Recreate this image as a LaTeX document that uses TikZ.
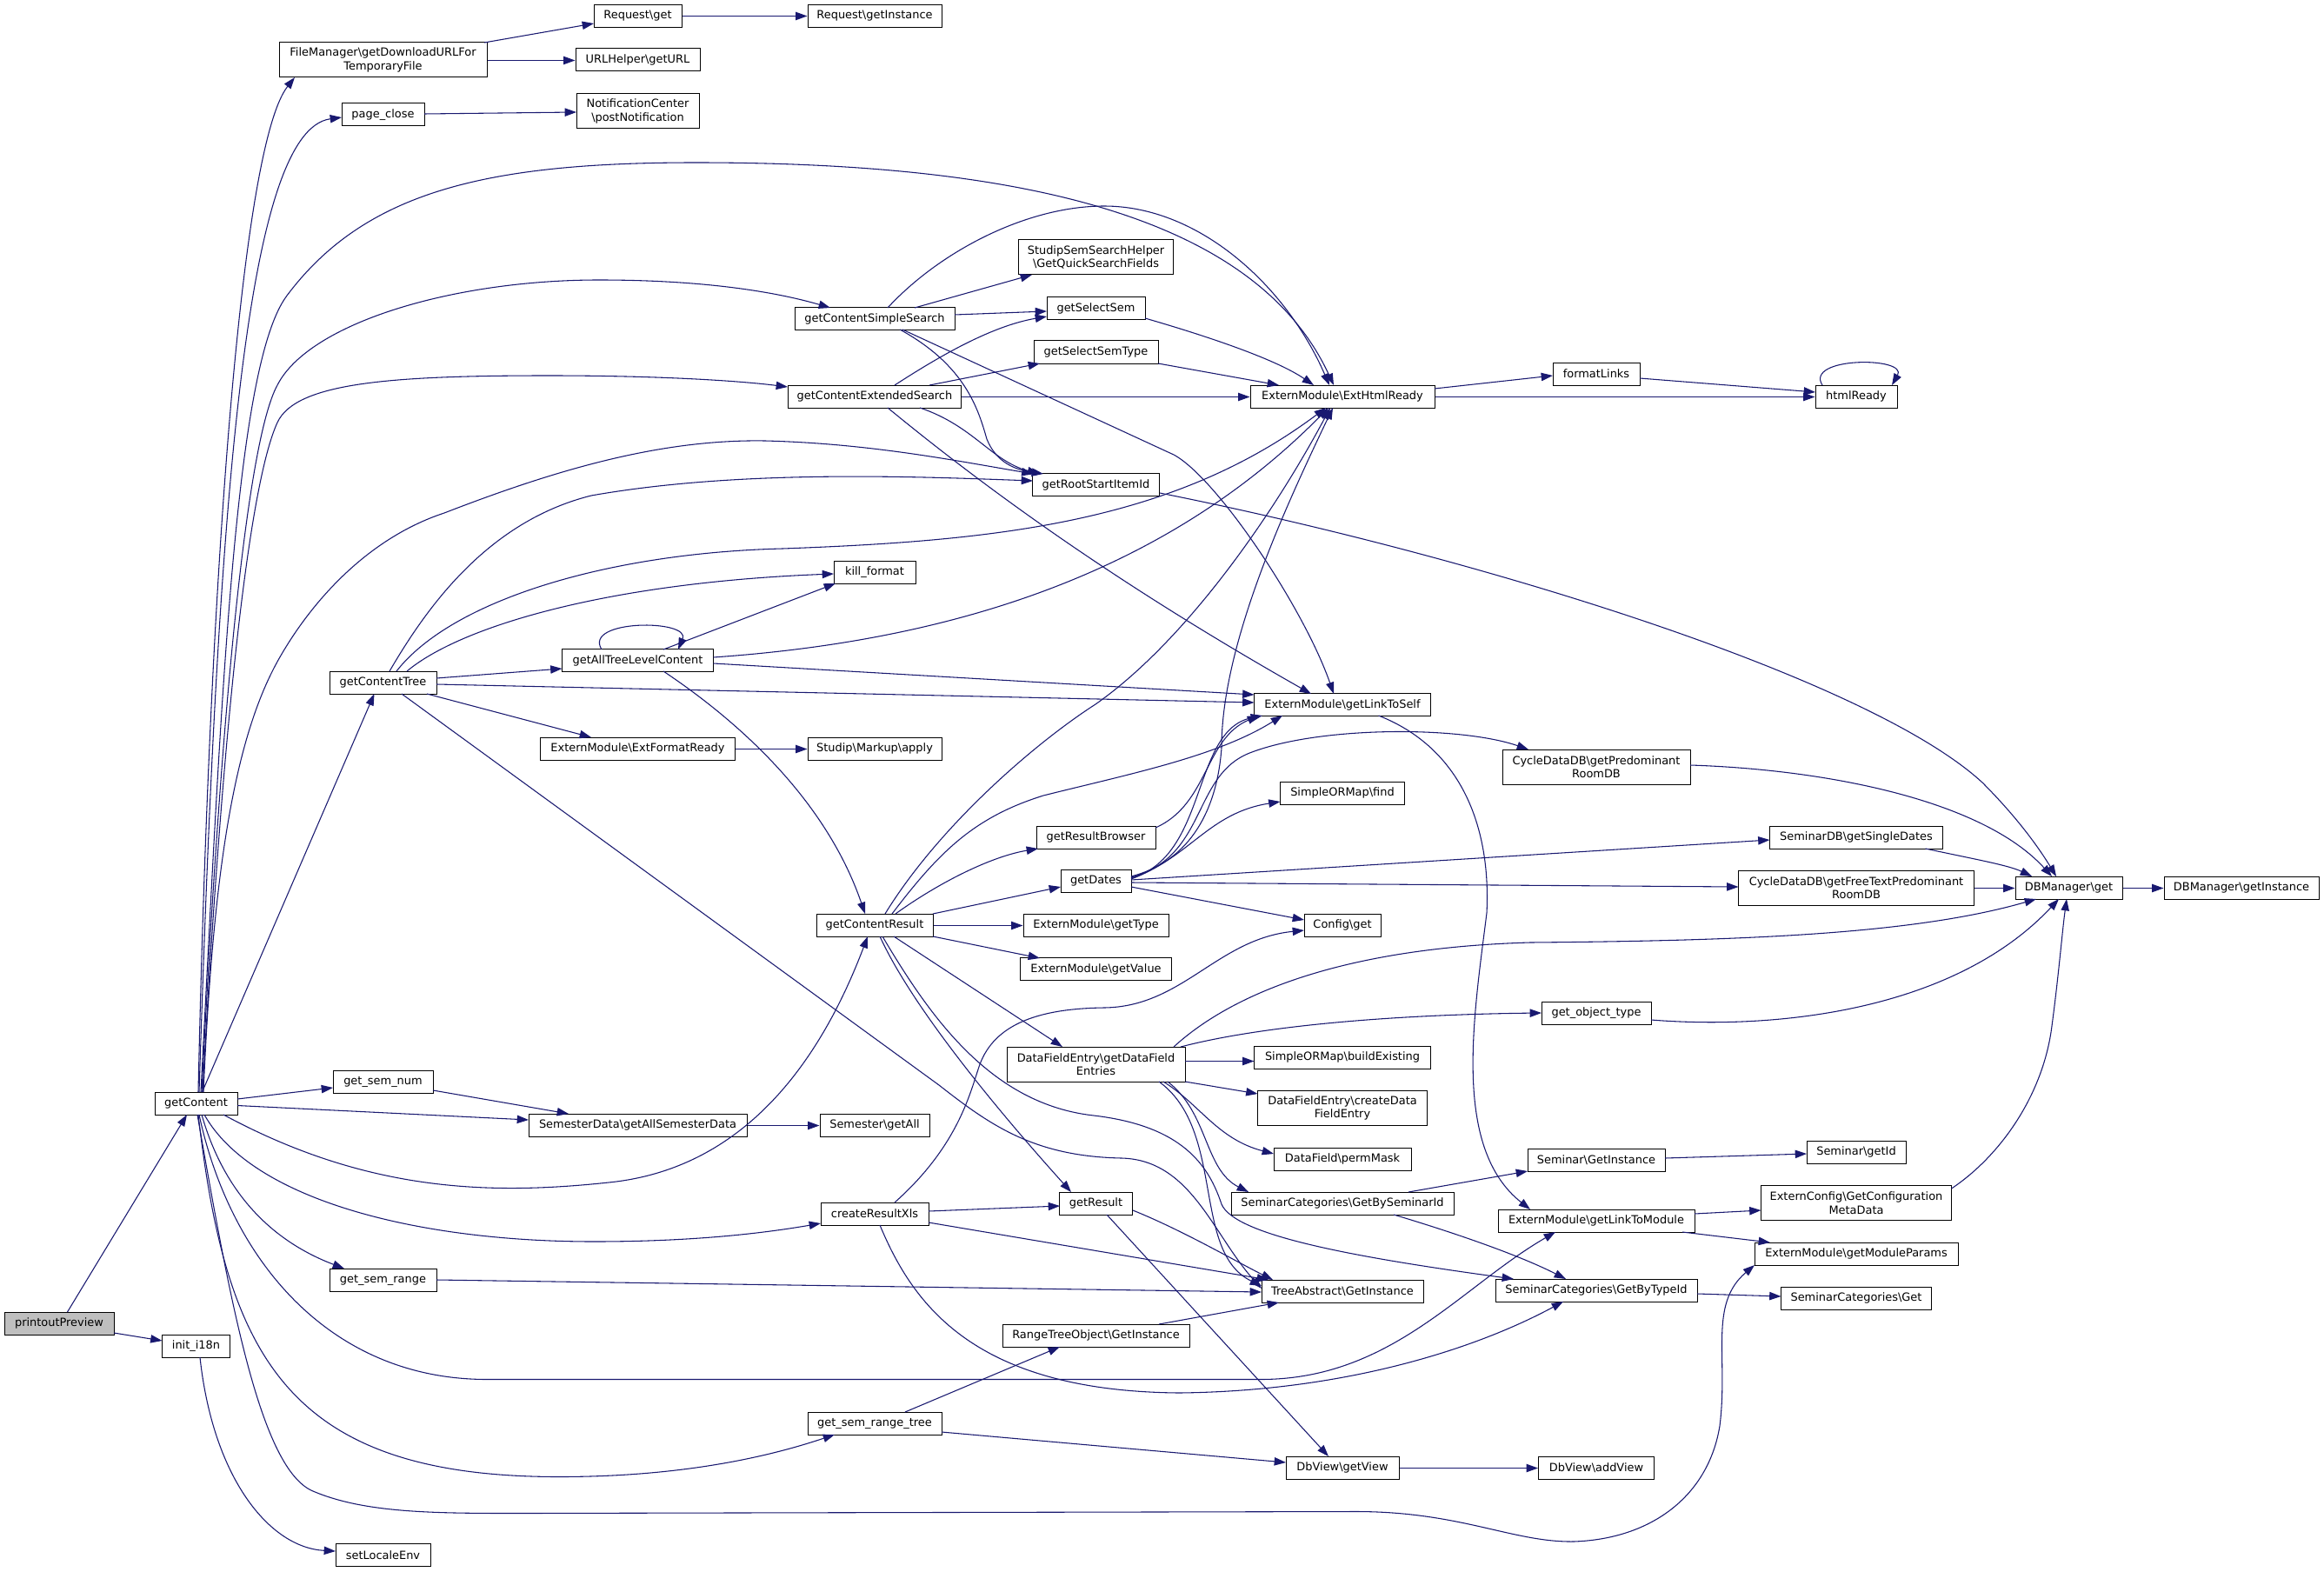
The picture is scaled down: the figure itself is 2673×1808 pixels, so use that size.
\documentclass[tikz,border=0pt]{standalone}
\usepackage{fontspec}
\setmainfont{DejaVu Sans}
\usetikzlibrary{arrows.meta,calc}
\definecolor{edgec}{HTML}{191970}
\definecolor{rootgray}{HTML}{BFBFBF}
\newcommand\bsl{\textbackslash}
\newcommand\nd[6]{\node[box,minimum width=#4*0.75pt,minimum height=#5*0.75pt] (#1) at (#2,#3) {#6};}
\begin{document}
\begin{tikzpicture}[x=0.75pt,y=-0.75pt,
  box/.style={draw=black,fill=white,line width=0.75pt,inner sep=0pt,align=center,font=\fontsize{9.7pt}{11.6pt}\selectfont},
  ce/.style={draw=edgec,line width=0.8pt,-{Triangle[length=10pt,width=7pt]}}]
\fill[white] (0,0) rectangle (2673,1808);
\useasboundingbox (0,0) rectangle (2673,1808);
% nodes
\node[box,fill=rootgray,minimum width=126*0.75pt,minimum height=26*0.75pt] (pp) at (68,1522) {printoutPreview};
\nd{gc}{225.5}{1269}{95}{26}{getContent}
\nd{init}{225.5}{1548}{78}{26}{init\_i18n}
\nd{sle}{440.5}{1788.5}{109}{26}{setLocaleEnv}
\nd{fm}{440.5}{69}{239}{40}{FileManager\bsl getDownloadURLFor\\TemporaryFile}
\nd{rg}{733.5}{18.5}{101}{26}{Request\bsl get}
\nd{rgi}{1006}{18.5}{154}{26}{Request\bsl getInstance}
\nd{url}{733.5}{69}{143}{26}{URLHelper\bsl getURL}
\nd{pc}{440.5}{132}{95}{26}{page\_close}
\nd{nc}{733.5}{128}{141}{40}{NotificationCenter\\\bsl postNotification}
\nd{gcss}{1006}{366.5}{184}{26}{getContentSimpleSearch}
\nd{sssh}{1260.5}{296}{178}{40}{StudipSemSearchHelper\\\bsl GetQuickSearchFields}
\nd{gss}{1260.5}{354.5}{113}{26}{getSelectSem}
\nd{gsst}{1260.5}{405}{143}{26}{getSelectSemType}
\nd{gces}{1006}{456}{199}{26}{getContentExtendedSearch}
\nd{ehr}{1544}{456}{212}{26}{ExternModule\bsl ExtHtmlReady}
\nd{grs}{1260.5}{557.5}{146}{26}{getRootStartItemId}
\nd{fl}{1836}{430}{100}{26}{formatLinks}
\nd{hr}{2135}{456}{94}{26}{htmlReady}
\nd{gct}{440.5}{785}{123}{26}{getContentTree}
\nd{gatl}{733.5}{759.5}{174}{26}{getAllTreeLevelContent}
\nd{efr}{733.5}{861}{224}{26}{ExternModule\bsl ExtFormatReady}
\nd{kf}{1006}{658}{94}{26}{kill\_format}
\nd{glts}{1544}{810.5}{203}{26}{ExternModule\bsl getLinkToSelf}
\nd{sma}{1006}{861}{154}{26}{Studip\bsl Markup\bsl apply}
\nd{cpr}{1836}{882}{216}{40}{CycleDataDB\bsl getPredominant\\RoomDB}
\nd{smf}{1544}{912}{143}{26}{SimpleORMap\bsl find}
\nd{grb}{1260.5}{963}{137}{26}{getResultBrowser}
\nd{gd}{1260.5}{1013}{81}{26}{getDates}
\nd{gcr}{1006}{1064}{134}{26}{getContentResult}
\nd{gtype}{1260.5}{1064}{167}{26}{ExternModule\bsl getType}
\nd{cfg}{1544}{1064}{88}{26}{Config\bsl get}
\nd{gval}{1260.5}{1114.5}{174}{26}{ExternModule\bsl getValue}
\nd{sdb}{2135}{963}{199}{26}{SeminarDB\bsl getSingleDates}
\nd{cft}{2135}{1021}{271}{40}{CycleDataDB\bsl getFreeTextPredominant\\RoomDB}
\nd{dbg}{2379.5}{1021}{123}{26}{DBManager\bsl get}
\nd{dbi}{2578}{1021}{178}{26}{DBManager\bsl getInstance}
\nd{got}{1836}{1165}{126}{26}{get\_object\_type}
\nd{gsn}{440.5}{1244}{115}{26}{get\_sem\_num}
\nd{sd}{733.5}{1294}{251}{26}{SemesterData\bsl getAllSemesterData}
\nd{gsr}{440.5}{1472}{123}{26}{get\_sem\_range}
\nd{dfe}{1260.5}{1224}{205}{40}{DataFieldEntry\bsl getDataField\\Entries}
\nd{sbe}{1544}{1216}{203}{26}{SimpleORMap\bsl buildExisting}
\nd{cdfe}{1544}{1274.5}{195}{40}{DataFieldEntry\bsl createData\\FieldEntry}
\nd{sga}{1006}{1294}{126}{26}{Semester\bsl getAll}
\nd{pm}{1544}{1333}{158}{26}{DataField\bsl permMask}
\nd{crx}{1006}{1396}{124}{26}{createResultXls}
\nd{gr}{1260.5}{1384}{84}{26}{getResult}
\nd{gbs}{1544}{1384}{256}{26}{SeminarCategories\bsl GetBySeminarId}
\nd{ta}{1544}{1485}{186}{26}{TreeAbstract\bsl GetInstance}
\nd{rto}{1260.5}{1536}{215}{26}{RangeTreeObject\bsl GetInstance}
\nd{gsrt}{1006}{1637}{154}{26}{get\_sem\_range\_tree}
\nd{dgv}{1544}{1688}{130}{26}{DbView\bsl getView}
\nd{sgi}{1836}{1334}{158}{26}{Seminar\bsl GetInstance}
\nd{sgid}{2135}{1325}{114}{26}{Seminar\bsl getId}
\nd{gltm}{1836}{1404}{226}{26}{ExternModule\bsl getLinkToModule}
\nd{ecg}{2135}{1383.5}{219}{40}{ExternConfig\bsl GetConfiguration\\MetaData}
\nd{gmp}{2135}{1442}{234}{26}{ExternModule\bsl getModuleParams}
\nd{gbt}{1836}{1484}{232}{26}{SeminarCategories\bsl GetByTypeId}
\nd{scg}{2135}{1493}{173}{26}{SeminarCategories\bsl Get}
\nd{dav}{1836}{1688}{133}{26}{DbView\bsl addView}
% edges
\draw[ce] ($(pp)+(9.5,-13)$) -- ($(gc)+(-10.5,13)$);
\draw[ce] ($(pp)+(63,11)$) -- ($(init)+(-39,-6)$);
\draw[ce] ($(init)+(4.5,13)$) .. controls (245,1700) and (310,1780) .. ($(sle)+(-54.5,-4.5)$);
\draw[ce] ($(gc)+(2.5,-13)$) .. controls (240,700) and (275,170) .. ($(fm)+(-101.5,20)$);
\draw[ce] ($(gc)+(3.5,-13)$) .. controls (250,600) and (280,150) .. ($(pc)+(-47.5,3)$);
\draw[ce] ($(gc)+(5.5,-13)$) .. controls (255,800) and (270,420) .. (330,340) .. controls (420,220) and (560,187) .. (800,187) .. controls (1150,187) and (1440,240) .. ($(ehr)+(-10,-13)$);
\draw[ce] ($(gc)+(6.5,-13)$) .. controls (255,800) and (285,505) .. (319,443) .. controls (355,372) and (520,322) .. (689,322) .. controls (820,322) and (900,338) .. ($(gcss)+(-51,-12.5)$);
\draw[ce] ($(gc)+(7.5,-13)$) .. controls (255,850) and (285,560) .. (319,486) .. controls (340,440) and (450,432) .. (631,432) .. controls (760,432) and (850,438) .. ($(gces)+(-100,-11)$);
\draw[ce] ($(gc)+(8.5,-13)$) .. controls (245,1000) and (270,850) .. (319,761) .. controls (355,696) and (420,620) .. (511,590) .. controls (640,540) and (760,505) .. (880,507) .. controls (1000,510) and (1100,530) .. ($(grs)+(-72,-12.5)$);
\draw[ce] ($(gc)+(7,-13)$) -- ($(gct)+(-10,13)$);
\draw[ce] ($(gc)+(47.5,-5)$) -- ($(gsn)+(-57.5,7)$);
\draw[ce] ($(gc)+(47.5,2.5)$) -- ($(sd)+(-125.5,-6)$);
\draw[ce] ($(gc)+(31.5,13)$) .. controls (420,1370) and (560,1375) .. (700,1360) .. controls (850,1345) and (940,1230) .. ($(gcr)+(-8,13)$);
\draw[ce] ($(gc)+(9.5,13)$) .. controls (290,1380) and (480,1428) .. (683,1428) .. controls (800,1428) and (880,1418) .. ($(crx)+(-62,11)$);
\draw[ce] ($(gc)+(6.5,13)$) .. controls (260,1380) and (320,1430) .. ($(gsr)+(-44.5,-13)$);
\draw[ce] ($(gc)+(3.5,13)$) .. controls (265,1450) and (380,1586.5) .. (560,1586.5) -- (1450,1586.5) .. controls (1600,1586.5) and (1680,1480) .. ($(gltm)+(-47,13)$);
\draw[ce] ($(gc)+(2.5,13)$) .. controls (260,1560) and (330,1698.5) .. (643,1698.5) .. controls (800,1698.5) and (900,1670) .. ($(gsrt)+(-46,13)$);
\draw[ce] ($(gc)+(1.5,13)$) .. controls (265,1500) and (300,1690) .. (360,1715) .. controls (420,1740.5) and (500,1740.5) .. (600,1740.5) -- (1560,1738.5) .. controls (1680,1738.5) and (1740,1774) .. (1810,1773) .. controls (1900,1770) and (1965,1720) .. (1978,1640) .. controls (1988,1560) and (1965,1500) .. ($(gmp)+(-117,13)$);
% getContentTree
\draw[ce] ($(gct)+(61.5,-5)$) -- ($(gatl)+(-87,9.5)$);
\draw[ce] ($(gct)+(61.5,2)$) -- ($(glts)+(-101.5,-2.5)$);
\draw[ce] ($(gct)+(50.5,13)$) -- ($(efr)+(-53.5,-13)$);
\draw[ce] ($(gct)+(21.5,13)$) -- (1080,1248) .. controls (1140,1295) and (1190,1330) .. (1290,1332) .. controls (1370,1334) and (1395,1420) .. ($(ta)+(-93,-3)$);
\draw[ce] ($(gct)+(27.5,-13)$) .. controls (530,720) and (700,670) .. ($(kf)+(-47,2)$);
\draw[ce] ($(gct)+(7.5,-13)$) .. controls (490,700) and (560,600) .. (680,570) .. controls (850,540) and (1050,548) .. ($(grs)+(-72.5,-4.5)$);
\draw[ce] ($(gct)+(15.5,-13)$) .. controls (520,690) and (700,636) .. (900,631) .. controls (1150,622) and (1350,600) .. ($(ehr)+(-19,13)$);
% getAllTreeLevelContent
\draw[ce] ($(gatl)+(-41.5,-12.5)$) .. controls (670,712) and (795,712) .. ($(gatl)+(46.5,-12.5)$);
\draw[ce] ($(gatl)+(29.5,-12.5)$) -- ($(kf)+(-45,13)$);
\draw[ce] ($(gatl)+(87,-3.5)$) .. controls (1050,740) and (1320,680) .. ($(ehr)+(-16,13)$);
\draw[ce] ($(gatl)+(87,3.5)$) -- ($(glts)+(-101.5,-11.5)$);
\draw[ce] ($(gatl)+(29.5,12.5)$) .. controls (850,830) and (950,920) .. ($(gcr)+(-11,-13)$);
\draw[ce] ($(efr.east)+(0,0.5)$) -- ($(sma.west)+(0,0.5)$);
% simple search / extended search
\draw[ce] ($(gcss)+(15,-12.5)$) .. controls (1080,290) and (1180,237) .. (1270,237) .. controls (1380,237) and (1480,330) .. ($(ehr)+(-15,-13)$);
\draw[ce] ($(gcss)+(46,-12.5)$) -- ($(sssh)+(-73.5,20)$);
\draw[ce] ($(gcss)+(92,-4.5)$) -- ($(gss)+(-56.5,3.5)$);
\draw[ce] ($(gcss)+(29,12.5)$) .. controls (1110,420) and (1125,470) .. (1135,505) .. controls (1145,530) and (1165,540) .. ($(grs)+(-60.5,-12.5)$);
\draw[ce] ($(gcss)+(32,12.5)$) -- (1350,523) .. controls (1400,550) and (1500,700) .. ($(glts)+(-10,-12.5)$);
\draw[ce] ($(gces)+(23,-13)$) .. controls (1080,410) and (1140,375) .. ($(gss)+(-56.5,9.5)$);
\draw[ce] ($(gces)+(63,-13)$) -- ($(gsst)+(-64.5,13)$);
\draw[ce] ($(gces.east)+(0,0.5)$) -- ($(ehr.west)+(0,0.5)$);
\draw[ce] ($(gces)+(52,13)$) .. controls (1120,490) and (1140,530) .. ($(grs)+(-65.5,-12.5)$);
\draw[ce] ($(gces)+(15,13)$) .. controls (1150,575) and (1300,680) .. ($(glts)+(-36,-12.5)$);
\draw[ce] ($(gss)+(56.5,11.5)$) .. controls (1400,390) and (1470,415) .. ($(ehr)+(-33,-13)$);
\draw[ce] ($(gsst)+(71.5,13)$) -- ($(ehr)+(-73,-13)$);
\draw[ce] ($(ehr)+(106,-9)$) -- ($(fl)+(-50,2)$);
\draw[ce] ($(ehr.east)+(0,0.5)$) -- ($(hr.west)+(0,0.5)$);
\draw[ce] ($(fl)+(50,5)$) -- ($(hr)+(-47,-5)$);
\draw[ce] ($(hr)+(-39,-13)$) .. controls (2075,410) and (2195,410) .. ($(hr)+(41,-13)$);
% DBManager
\draw[ce] ($(grs)+(73.5,9.5)$) .. controls (1700,640) and (2150,780) .. (2280,900) .. controls (2320,940) and (2345,975) .. ($(dbg)+(-14.5,-13)$);
\draw[ce] ($(sdb)+(79.5,13)$) .. controls (2270,988) and (2310,995) .. ($(dbg)+(-42.5,-13)$);
\draw[ce] ($(cpr)+(108,-2)$) .. controls (2100,885) and (2280,920) .. ($(dbg)+(-19.5,-13)$);
\draw[ce] ($(cft.east)+(0,0.5)$) -- ($(dbg.west)+(0,0.5)$);
\draw[ce] ($(dfe)+(89.5,-20)$) .. controls (1420,1140) and (1550,1090) .. (1760,1084) .. controls (2000,1082) and (2200,1075) .. ($(dbg)+(-37.5,13)$);
\draw[ce] ($(got)+(63,8)$) .. controls (2050,1185) and (2250,1160) .. ($(dbg)+(-11.5,13)$);
\draw[ce] ($(ecg)+(109.5,-16.5)$) .. controls (2300,1330) and (2350,1260) .. (2360,1180) .. controls (2368,1120) and (2372,1070) .. ($(dbg)+(-2.5,13)$);
\draw[ce] ($(dbg.east)+(0,0.5)$) -- ($(dbi.west)+(0,0.5)$);
% getContentResult
\draw[ce] ($(gcr)+(12,-13)$) .. controls (1080,950) and (1190,855) .. (1260,810) .. controls (1360,740) and (1460,600) .. ($(ehr)+(-14,13)$);
\draw[ce] ($(gcr)+(20,-13)$) .. controls (1080,980) and (1120,940) .. (1200,915) .. controls (1300,890) and (1400,870) .. ($(glts)+(-69,12.5)$);
\draw[ce] ($(grb)+(68.5,-11)$) .. controls (1390,925) and (1385,850) .. ($(glts)+(-96,12.5)$);
\draw[ce] ($(gcr)+(24,-13)$) .. controls (1080,1015) and (1140,985) .. ($(grb)+(-66.5,13)$);
\draw[ce] ($(gcr)+(67,-13)$) -- ($(gd)+(-40.5,7)$);
\draw[ce] ($(gcr.east)+(0,0.5)$) -- ($(gtype.west)+(0,0.5)$);
\draw[ce] ($(gcr)+(67,13)$) -- ($(gval)+(-64.5,-12.5)$);
\draw[ce] ($(gcr)+(22,13)$) -- ($(dfe)+(-38.5,-20)$);
\draw[ce] ($(gcr)+(6,13)$) .. controls (1050,1160) and (1150,1280) .. ($(gr)+(-28.5,-13)$);
\draw[ce] ($(gcr)+(9,13)$) .. controls (1070,1170) and (1140,1270) .. (1258,1283) .. controls (1360,1295) and (1390,1340) .. (1405,1385) .. controls (1420,1420) and (1550,1445) .. ($(gbt)+(-95,-13)$);
% getDates
\draw[ce] ($(gd)+(40.5,-5)$) .. controls (1370,990) and (1400,930) .. (1405,860) .. controls (1405,740) and (1480,580) .. ($(ehr)+(-11,13)$);
\draw[ce] ($(gd)+(40.5,-3)$) .. controls (1390,985) and (1370,840) .. ($(glts)+(-92,12.5)$);
\draw[ce] ($(gd)+(40.5,-4)$) .. controls (1390,985) and (1370,890) .. (1440,865) .. controls (1520,835) and (1680,835) .. ($(cpr)+(-78,-20)$);
\draw[ce] ($(gd)+(40.5,-2)$) .. controls (1370,985) and (1390,935) .. ($(smf)+(-71.5,10)$);
\draw[ce] ($(gd)+(40.5,-1)$) -- ($(sdb)+(-99.5,3)$);
\draw[ce] ($(gd)+(40.5,2)$) -- ($(cft)+(-135.5,-1)$);
\draw[ce] ($(gd)+(40.5,7)$) -- ($(cfg)+(-44,-6)$);
% DataFieldEntry
\draw[ce] ($(dfe)+(102.5,-3.5)$) -- ($(sbe)+(-101.5,4.5)$);
\draw[ce] ($(dfe)+(102.5,20)$) -- ($(cdfe)+(-97.5,-16.5)$);
\draw[ce] ($(dfe)+(77.5,20)$) .. controls (1380,1270) and (1400,1310) .. ($(pm)+(-79,-6)$);
\draw[ce] ($(dfe)+(82.5,20)$) .. controls (1390,1280) and (1385,1345) .. ($(gbs)+(-108,-13)$);
\draw[ce] ($(dfe)+(72.5,20)$) .. controls (1410,1300) and (1370,1440) .. ($(ta)+(-93,-6)$);
\draw[ce] ($(dfe)+(97.5,-20)$) .. controls (1450,1180) and (1600,1167) .. ($(got)+(-63,0)$);
% createResultXls
\draw[ce] ($(crx)+(62,-3)$) -- ($(gr)+(-41.5,3)$);
\draw[ce] ($(crx)+(62,10)$) -- ($(ta)+(-85,-13)$);
\draw[ce] ($(crx)+(23,-13)$) .. controls (1100,1320) and (1115,1260) .. (1125,1230) .. controls (1140,1180) and (1190,1160) .. (1270,1159) .. controls (1360,1158) and (1400,1080) .. ($(cfg)+(-44,6)$);
\draw[ce] ($(crx)+(6,13)$) .. controls (1050,1500) and (1120,1600) .. (1356,1602) .. controls (1550,1600) and (1700,1550) .. ($(gbt)+(-38,13)$);
\draw[ce] ($(gr)+(42.5,8)$) .. controls (1360,1415) and (1420,1450) .. ($(ta)+(-80,-13)$);
\draw[ce] ($(gr)+(12.5,13)$) -- ($(dgv)+(-16,-13)$);
\draw[ce] ($(gsr)+(61.5,0)$) -- ($(ta)+(-93,1)$);
\draw[ce] ($(rto)+(72.5,-13)$) -- ($(ta)+(-73,13)$);
\draw[ce] ($(gsrt)+(35,-13)$) -- ($(rto)+(-41.5,13)$);
\draw[ce] ($(gsrt)+(77,10)$) -- ($(dgv)+(-65,-6)$);
\draw[ce] ($(dgv.east)+(0,0.5)$) -- ($(dav.west)+(0,0.5)$);
\draw[ce] ($(sd.east)+(0,0.5)$) -- ($(sga.west)+(0,0.5)$);
\draw[ce] ($(gsn)+(57.5,10)$) -- ($(sd)+(-79.5,-13)$);
% seminar categories / extern module
\draw[ce] ($(gbs)+(76,-13)$) -- ($(sgi)+(-79,13)$);
\draw[ce] ($(gbs)+(59,13)$) .. controls (1680,1420) and (1750,1445) .. ($(gbt)+(-35,-13)$);
\draw[ce] ($(sgi)+(79,-2)$) -- ($(sgid)+(-57,2)$);
\draw[ce] ($(glts)+(41.5,12.5)$) .. controls (1680,860) and (1715,950) .. (1710,1050) .. controls (1695,1170) and (1670,1320) .. ($(gltm)+(-76,-13)$);
\draw[ce] ($(gltm)+(113,-8)$) -- ($(ecg)+(-109.5,8.5)$);
\draw[ce] ($(gltm)+(99,13)$) -- ($(gmp)+(-99,-13)$);
\draw[ce] ($(gbt)+(116,4)$) -- ($(scg)+(-86.5,-2)$);
% top
\draw[ce] ($(fm)+(116.5,-20)$) -- ($(rg)+(-50.5,8.5)$);
\draw[ce] ($(fm.east)+(0,0.5)$) -- ($(url.west)+(0,0.5)$);
\draw[ce] (rg.east) -- (rgi.west);
\draw[ce] ($(pc)+(47.5,-1)$) -- ($(nc)+(-70.5,1)$);
\end{tikzpicture}
\end{document}
